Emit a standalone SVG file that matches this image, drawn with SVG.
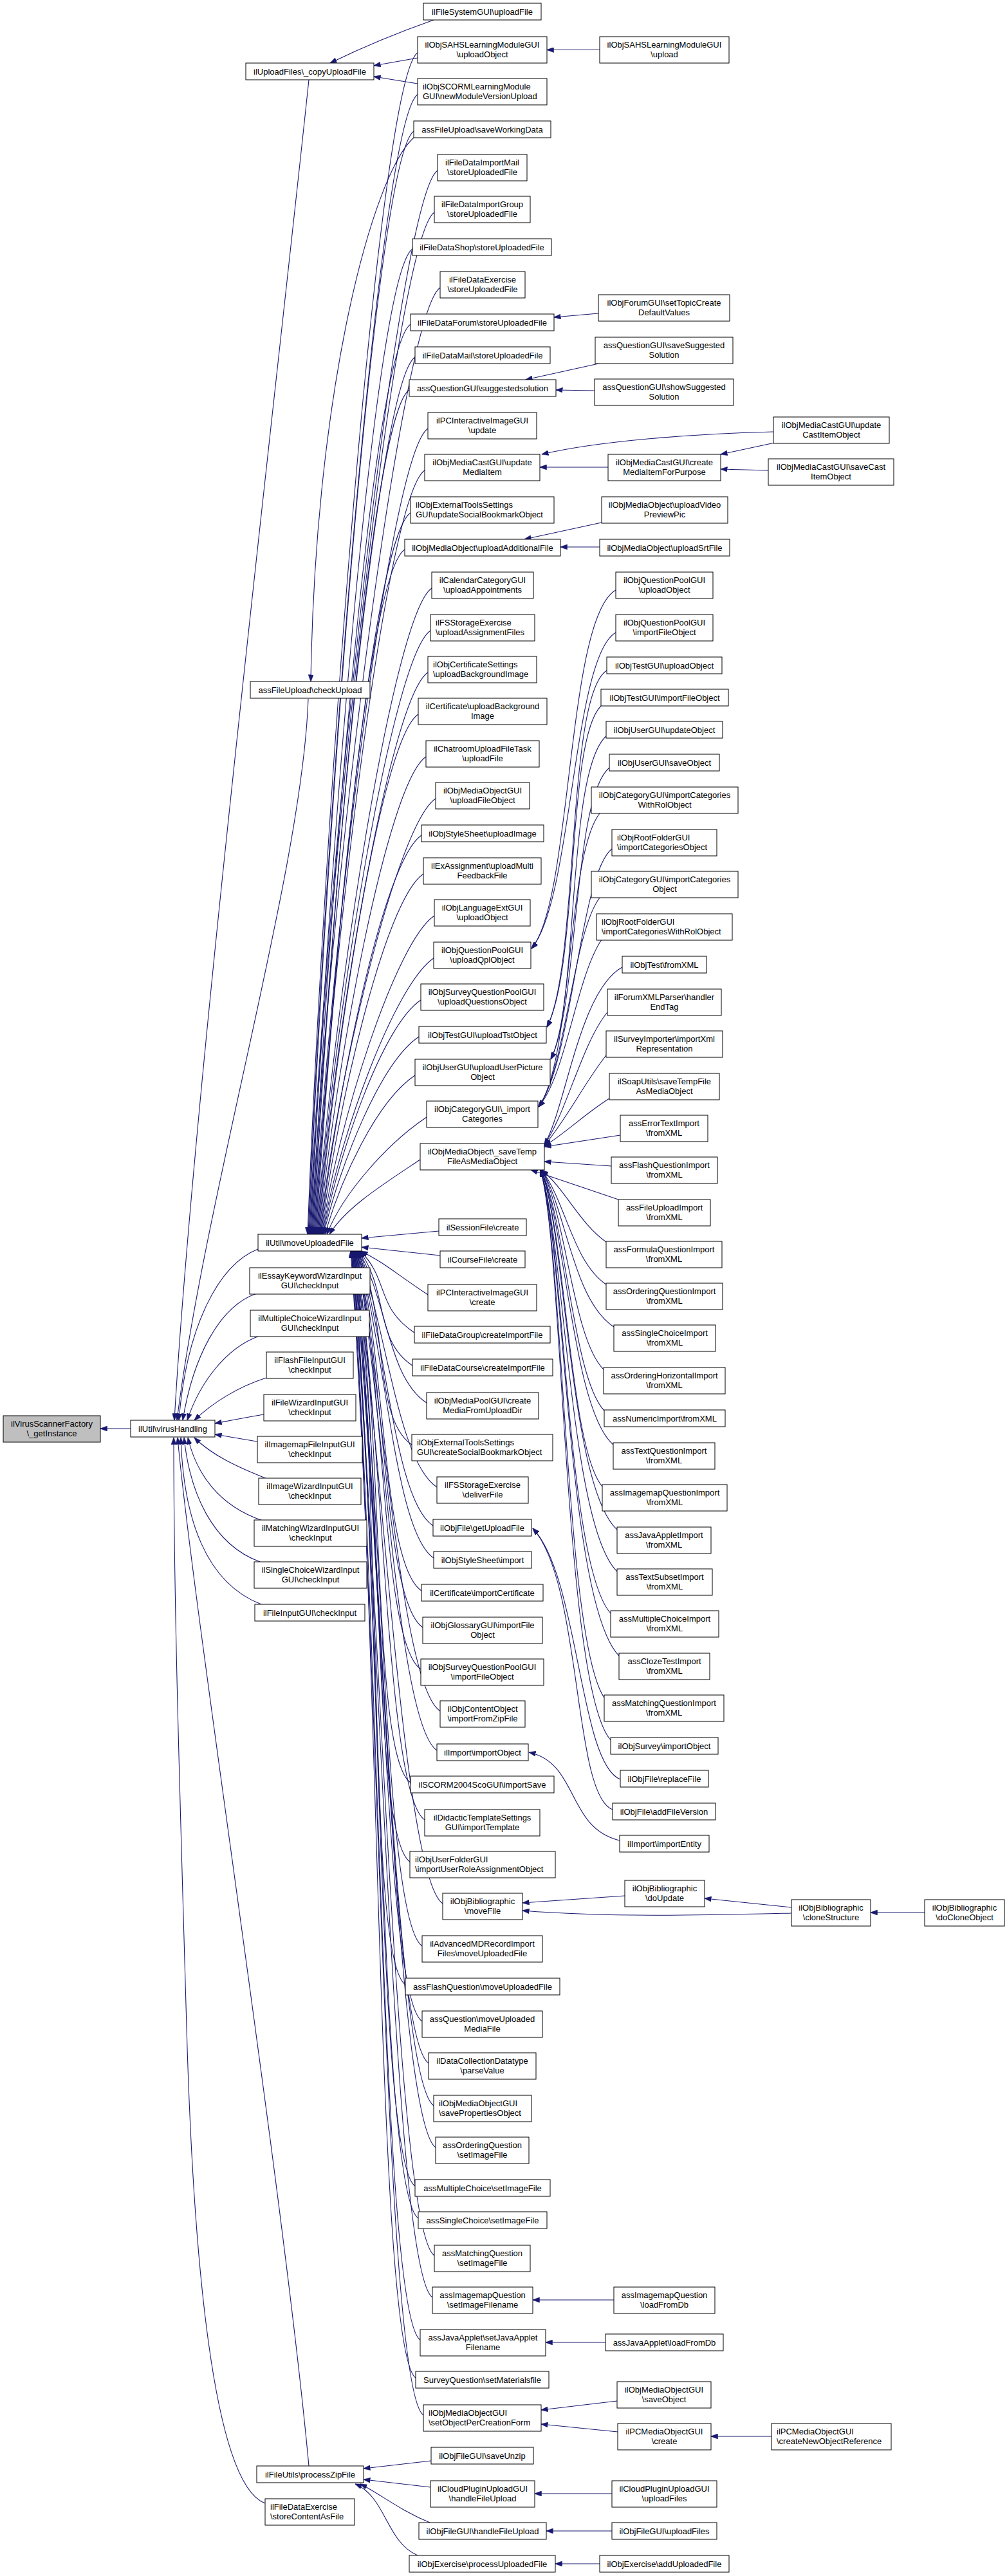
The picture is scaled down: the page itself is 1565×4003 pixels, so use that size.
<svg xmlns="http://www.w3.org/2000/svg" width="1565" height="4003" viewBox="0 0 1565 4003">
<style>
.n rect{fill:#fff;stroke:#000;stroke-width:1}
.n.root rect{fill:#bfbfbf}
.n text{font-family:"Liberation Sans",Arial,Helvetica,sans-serif;font-size:13px;fill:#000;text-anchor:middle}
.n text.l{text-anchor:start}
#edges path{fill:none;stroke:#191970;stroke-width:1.1;marker-end:url(#a)}
</style>
<defs>
<marker id="a" viewBox="0 0 11 8" markerWidth="11" markerHeight="8" refX="10.5" refY="4" orient="auto" markerUnits="userSpaceOnUse"><path d="M0,0L11,4L0,8z" fill="#191970" stroke="#191970" stroke-width="0.5"/></marker>
</defs>
<rect width="1565" height="4003" fill="#fff"/>
<g id="edges">
<path d="M203,2220 L156,2220"/>
<path d="M480,124 C430,600 300,1700 271,2207"/>
<path d="M479,1086 C470,1350 320,1850 275,2207"/>
<path d="M401,1941 C340,1965 290,2060 278,2207"/>
<path d="M399,2010 C340,2030 300,2110 284,2207"/>
<path d="M403,2076 C350,2095 310,2150 291,2207"/>
<path d="M414,2141 C370,2155 330,2180 302,2207"/>
<path d="M410,2198 C380,2203 360,2207 334,2212"/>
<path d="M400,2240 C380,2237 360,2233 334,2229"/>
<path d="M415,2298 C370,2280 330,2262 302,2234"/>
<path d="M408,2363 C340,2340 305,2290 292,2234"/>
<path d="M404,2427 C330,2400 295,2320 286,2234"/>
<path d="M406,2493 C320,2460 285,2360 281,2234"/>
<path d="M480,3832 C440,3400 300,2500 276,2234"/>
<path d="M412,3890 C330,3860 300,3500 290,3150 C280,2800 270,2500 270,2234"/>
<path d="M674,31 C620,50 560,75 513,98"/>
<path d="M649,90 L581,102"/>
<path d="M649,130 L581,119"/>
<path d="M643,214 C580,270 490,600 483,1059"/>
<path d="M649,82 C589,122 503,1275 478,1918"/>
<path d="M649,147 C589,187 504,1298 479,1918"/>
<path d="M643,204 C583,244 505,1318 480,1918"/>
<path d="M680,265 C620,305 506,1340 481,1918"/>
<path d="M675,330 C615,370 507,1362 482,1918"/>
<path d="M641,387 C581,427 508,1382 483,1918"/>
<path d="M684,447 C624,487 509,1403 484,1918"/>
<path d="M638,504 C578,544 510,1423 485,1918"/>
<path d="M645,555 C585,595 511,1441 486,1918"/>
<path d="M636,606 C576,646 512,1459 487,1918"/>
<path d="M665,666 C605,706 513,1480 488,1918"/>
<path d="M660,731 C600,771 514,1503 489,1918"/>
<path d="M638,797 C578,837 515,1526 490,1918"/>
<path d="M629,854 C569,894 516,1546 491,1918"/>
<path d="M671,914 C611,954 517,1567 492,1918"/>
<path d="M669,980 C609,1020 518,1590 493,1918"/>
<path d="M665,1045 C605,1085 519,1613 494,1918"/>
<path d="M650,1110 C590,1150 520,1635 495,1918"/>
<path d="M662,1176 C602,1216 521,1658 496,1918"/>
<path d="M677,1241 C617,1281 522,1681 497,1918"/>
<path d="M655,1298 C595,1338 523,1701 498,1918"/>
<path d="M658,1358 C598,1398 524,1722 499,1918"/>
<path d="M675,1423 C615,1463 525,1745 500,1918"/>
<path d="M674,1489 C614,1529 526,1768 501,1918"/>
<path d="M654,1554 C594,1594 527,1791 502,1918"/>
<path d="M651,1611 C591,1651 528,1811 503,1918"/>
<path d="M645,1671 C585,1711 530,1832 505,1918"/>
<path d="M663,1736 C603,1776 533,1854 508,1918"/>
<path d="M653,1802 C593,1842 537,1877 512,1918"/>
<path d="M682,1913 L562,1924"/>
<path d="M684,1951 L562,1938"/>
<path d="M665,2012 C605,1972 606,1968 561,1944"/>
<path d="M644,2071 C584,2031 605,1989 560,1944"/>
<path d="M641,2122 C581,2082 604,2006 559,1944"/>
<path d="M663,2180 C603,2140 603,2027 558,1944"/>
<path d="M640,2245 C580,2205 603,2049 558,1944"/>
<path d="M679,2311 C619,2271 602,2073 557,1944"/>
<path d="M673,2371 C613,2331 602,2094 557,1944"/>
<path d="M674,2421 C614,2381 601,2111 556,1944"/>
<path d="M655,2472 C595,2432 601,2129 556,1944"/>
<path d="M657,2529 C597,2489 600,2149 555,1944"/>
<path d="M654,2594 C594,2554 600,2172 555,1944"/>
<path d="M684,2659 C624,2619 599,2194 554,1944"/>
<path d="M679,2720 C619,2680 599,2216 554,1944"/>
<path d="M638,2770 C578,2730 598,2233 553,1944"/>
<path d="M660,2828 C600,2788 598,2253 553,1944"/>
<path d="M637,2893 C577,2853 597,2276 552,1944"/>
<path d="M688,2958 C628,2918 597,2299 552,1944"/>
<path d="M656,3024 C596,2984 596,2322 551,1944"/>
<path d="M630,3084 C570,3044 596,2343 551,1944"/>
<path d="M656,3141 C596,3101 595,2363 550,1944"/>
<path d="M666,3206 C606,3166 595,2386 550,1944"/>
<path d="M674,3272 C614,3232 594,2409 549,1944"/>
<path d="M677,3337 C617,3297 594,2432 549,1944"/>
<path d="M645,3397 C585,3357 593,2453 548,1944"/>
<path d="M650,3447 C590,3407 593,2470 548,1944"/>
<path d="M675,3505 C615,3465 592,2490 547,1944"/>
<path d="M672,3570 C612,3530 592,2513 547,1944"/>
<path d="M653,3636 C593,3596 591,2536 546,1944"/>
<path d="M646,3695 C586,3655 591,2557 546,1944"/>
<path d="M658,3753 C598,3713 590,2577 545,1944"/>
<path d="M670,3824 L565,3836"/>
<path d="M669,3865 L565,3853"/>
<path d="M668,3920 C620,3900 590,3875 560,3860"/>
<path d="M649,3971 C600,3950 600,3880 552,3860"/>
<path d="M932,77.5 L850,77.5"/>
<path d="M930,487 L861,493"/>
<path d="M935,564 L817,590"/>
<path d="M924,607 L864,606"/>
<path d="M945,726 L839,726"/>
<path d="M1202,671 C1080,674 930,685 842,706"/>
<path d="M1204,688 L1120,706"/>
<path d="M1194,731 L1120,729"/>
<path d="M935,812 L815,838"/>
<path d="M932,850 L871,850"/>
<path d="M957,917 C880,960 890,1400 826,1474"/>
<path d="M957,983 C890,1020 890,1400 826,1474"/>
<path d="M943,1042 C880,1080 900,1500 850,1596"/>
<path d="M934,1097 C880,1150 900,1500 850,1596"/>
<path d="M942,1144 C880,1200 900,1560 856,1646"/>
<path d="M947,1193 C890,1240 900,1560 856,1646"/>
<path d="M932,1264 C880,1330 890,1650 837,1720"/>
<path d="M951,1319 C900,1360 890,1650 837,1720"/>
<path d="M932,1395 C890,1450 880,1660 837,1720"/>
<path d="M935,1460 C895,1520 880,1670 837,1720"/>
<path d="M967,1503 C900,1540 880,1720 846,1779"/>
<path d="M944,1573 C905,1620 880,1730 846,1779"/>
<path d="M942,1640 C910,1680 880,1740 846,1780"/>
<path d="M947,1707 C910,1730 880,1760 846,1781"/>
<path d="M964,1764 L846,1782"/>
<path d="M950,1812 L846,1805"/>
<path d="M961,1864 L825,1818"/>
<path d="M942,1930 C900,1900 880,1850 842,1818"/>
<path d="M942,1996 C890,1960 880,1870 842,1818"/>
<path d="M954,2062 C890,2020 880,1880 842,1818"/>
<path d="M938,2128 C890,2080 880,1890 842,1818"/>
<path d="M939,2192 C890,2140 880,1900 841,1818"/>
<path d="M953,2245 C890,2190 880,1910 841,1818"/>
<path d="M936,2310 C885,2250 880,1920 841,1818"/>
<path d="M959,2377 C885,2310 880,1920 841,1818"/>
<path d="M959,2442 C885,2370 878,1930 840,1818"/>
<path d="M949,2507 C880,2430 878,1930 840,1818"/>
<path d="M962,2573 C880,2490 878,1935 840,1818"/>
<path d="M939,2638 C878,2550 876,1940 840,1818"/>
<path d="M949,2704 C876,2620 876,1940 840,1818"/>
<path d="M964,2765 C900,2740 900,2450 828,2375"/>
<path d="M952,2812 C890,2790 905,2460 828,2375"/>
<path d="M963,2860 C880,2840 900,2740 822,2723"/>
<path d="M971,2946 L812,2957"/>
<path d="M1230,2973 C1100,2976 950,2980 812,2969"/>
<path d="M1230,2964 L1095,2950"/>
<path d="M1437,2972 L1353,2972"/>
<path d="M954,3574 L828,3574"/>
<path d="M941,3640 L848,3640"/>
<path d="M959,3731 L841,3745"/>
<path d="M960,3779 L841,3767"/>
<path d="M1199,3786 L1105,3786"/>
<path d="M951,3875 L831,3875"/>
<path d="M951,3933 L849,3933"/>
<path d="M932,3984 L863,3984"/>
</g>
<g id="nodes">
<g id="virusfactory" class="n root"><rect x="5" y="2200" width="151" height="41"/><text><tspan x="80.5" y="2217">ilVirusScannerFactory</tspan><tspan x="80.5" y="2231.5">\_getInstance</tspan></text></g>
<g id="virushandling" class="n"><rect x="203" y="2207" width="131" height="26"/><text x="268.5" y="2224.5">ilUtil\virusHandling</text></g>
<g id="copyupload" class="n"><rect x="382" y="98" width="199" height="26"/><text x="481.5" y="115.5">ilUploadFiles\_copyUploadFile</text></g>
<g id="checkupload" class="n"><rect x="389" y="1059" width="186" height="26"/><text x="482" y="1076.5">assFileUpload\checkUpload</text></g>
<g id="moveuploaded" class="n"><rect x="401" y="1918" width="161" height="26"/><text x="481.5" y="1935.5">ilUtil\moveUploadedFile</text></g>
<g id="essay" class="n"><rect x="388" y="1970" width="187" height="41"/><text><tspan x="481.5" y="1987">ilEssayKeywordWizardInput</tspan><tspan x="481.5" y="2001.5">GUI\checkInput</tspan></text></g>
<g id="mcwizard" class="n"><rect x="389" y="2036" width="185" height="41"/><text><tspan x="481.5" y="2053">ilMultipleChoiceWizardInput</tspan><tspan x="481.5" y="2067.5">GUI\checkInput</tspan></text></g>
<g id="flashinput" class="n"><rect x="414" y="2101" width="135" height="41"/><text><tspan x="481.5" y="2118">ilFlashFileInputGUI</tspan><tspan x="481.5" y="2132.5">\checkInput</tspan></text></g>
<g id="filewizard" class="n"><rect x="410" y="2167" width="143" height="41"/><text><tspan x="481.5" y="2184">ilFileWizardInputGUI</tspan><tspan x="481.5" y="2198.5">\checkInput</tspan></text></g>
<g id="imagemapinput" class="n"><rect x="400" y="2232" width="163" height="41"/><text><tspan x="481.5" y="2249">ilImagemapFileInputGUI</tspan><tspan x="481.5" y="2263.5">\checkInput</tspan></text></g>
<g id="imagewizard" class="n"><rect x="402" y="2297" width="159" height="41"/><text><tspan x="481.5" y="2314">ilImageWizardInputGUI</tspan><tspan x="481.5" y="2328.5">\checkInput</tspan></text></g>
<g id="matchingwizard" class="n"><rect x="395" y="2362" width="175" height="41"/><text><tspan x="482.5" y="2379">ilMatchingWizardInputGUI</tspan><tspan x="482.5" y="2393.5">\checkInput</tspan></text></g>
<g id="scwizard" class="n"><rect x="395" y="2427" width="175" height="41"/><text><tspan x="482.5" y="2444">ilSingleChoiceWizardInput</tspan><tspan x="482.5" y="2458.5">GUI\checkInput</tspan></text></g>
<g id="fileinput" class="n"><rect x="396" y="2493" width="171" height="26"/><text x="481.5" y="2510.5">ilFileInputGUI\checkInput</text></g>
<g id="processzip" class="n"><rect x="399" y="3832" width="166" height="26"/><text x="482" y="3849.5">ilFileUtils\processZipFile</text></g>
<g id="storecontent" class="n"><rect x="412" y="3883" width="139" height="41"/><text class="l"><tspan x="420" y="3900">ilFileDataExercise</tspan><tspan x="420" y="3914.5">\storeContentAsFile</tspan></text></g>

<g id="fsgui" class="n"><rect x="658" y="5" width="183" height="26"/><text x="749.5" y="22.5">ilFileSystemGUI\uploadFile</text></g>
<g id="sahs" class="n"><rect x="649" y="57" width="201" height="41"/><text><tspan x="749.5" y="74">ilObjSAHSLearningModuleGUI</tspan><tspan x="749.5" y="88.5">\uploadObject</tspan></text></g>
<g id="scorm" class="n"><rect x="649" y="122" width="201" height="41"/><text class="l"><tspan x="657" y="139">ilObjSCORMLearningModule</tspan><tspan x="657" y="153.5">GUI\newModuleVersionUpload</tspan></text></g>
<g id="savewd" class="n"><rect x="643" y="188" width="213" height="26"/><text x="749.5" y="205.5">assFileUpload\saveWorkingData</text></g>
<g id="impmail" class="n"><rect x="680" y="240" width="139" height="41"/><text><tspan x="749.5" y="257">ilFileDataImportMail</tspan><tspan x="749.5" y="271.5">\storeUploadedFile</tspan></text></g>
<g id="impgroup" class="n"><rect x="675" y="305" width="149" height="41"/><text><tspan x="749.5" y="322">ilFileDataImportGroup</tspan><tspan x="749.5" y="336.5">\storeUploadedFile</tspan></text></g>
<g id="shop" class="n"><rect x="641" y="371" width="216" height="26"/><text x="749" y="388.5">ilFileDataShop\storeUploadedFile</text></g>
<g id="exstore" class="n"><rect x="684" y="422" width="132" height="41"/><text><tspan x="750" y="439">ilFileDataExercise</tspan><tspan x="750" y="453.5">\storeUploadedFile</tspan></text></g>
<g id="forum" class="n"><rect x="638" y="488" width="223" height="26"/><text x="749.5" y="505.5">ilFileDataForum\storeUploadedFile</text></g>
<g id="mail" class="n"><rect x="645" y="539" width="210" height="26"/><text x="750" y="556.5">ilFileDataMail\storeUploadedFile</text></g>
<g id="suggsol" class="n"><rect x="636" y="590" width="228" height="26"/><text x="750" y="607.5">assQuestionGUI\suggestedsolution</text></g>
<g id="pcupdate" class="n"><rect x="665" y="641" width="169" height="41"/><text><tspan x="749.5" y="658">ilPCInteractiveImageGUI</tspan><tspan x="749.5" y="672.5">\update</tspan></text></g>
<g id="mcupdmi" class="n"><rect x="660" y="706" width="179" height="41"/><text><tspan x="749.5" y="723">ilObjMediaCastGUI\update</tspan><tspan x="749.5" y="737.5">MediaItem</tspan></text></g>
<g id="extupd" class="n"><rect x="638" y="772" width="223" height="41"/><text class="l"><tspan x="646" y="789">ilObjExternalToolsSettings</tspan><tspan x="646" y="803.5">GUI\updateSocialBookmarkObject</tspan></text></g>
<g id="addfile" class="n"><rect x="629" y="838" width="242" height="26"/><text x="750" y="855.5">ilObjMediaObject\uploadAdditionalFile</text></g>
<g id="calcat" class="n"><rect x="671" y="889" width="158" height="41"/><text><tspan x="750" y="906">ilCalendarCategoryGUI</tspan><tspan x="750" y="920.5">\uploadAppointments</tspan></text></g>
<g id="fsassign" class="n"><rect x="669" y="955" width="162" height="41"/><text class="l"><tspan x="677" y="972">ilFSStorageExercise</tspan><tspan x="677" y="986.5">\uploadAssignmentFiles</tspan></text></g>
<g id="certset" class="n"><rect x="665" y="1020" width="169" height="41"/><text class="l"><tspan x="673" y="1037">ilObjCertificateSettings</tspan><tspan x="673" y="1051.5">\uploadBackgroundImage</tspan></text></g>
<g id="certbg" class="n"><rect x="650" y="1085" width="200" height="41"/><text><tspan x="750" y="1102">ilCertificate\uploadBackground</tspan><tspan x="750" y="1116.5">Image</tspan></text></g>
<g id="chat" class="n"><rect x="662" y="1151" width="176" height="41"/><text><tspan x="750" y="1168">ilChatroomUploadFileTask</tspan><tspan x="750" y="1182.5">\uploadFile</tspan></text></g>
<g id="mogui_upload" class="n"><rect x="677" y="1216" width="146" height="41"/><text><tspan x="750" y="1233">ilObjMediaObjectGUI</tspan><tspan x="750" y="1247.5">\uploadFileObject</tspan></text></g>
<g id="styleimg" class="n"><rect x="655" y="1282" width="190" height="26"/><text x="750" y="1299.5">ilObjStyleSheet\uploadImage</text></g>
<g id="exassign" class="n"><rect x="658" y="1333" width="183" height="41"/><text><tspan x="749.5" y="1350">ilExAssignment\uploadMulti</tspan><tspan x="749.5" y="1364.5">FeedbackFile</tspan></text></g>
<g id="langext" class="n"><rect x="675" y="1398" width="149" height="41"/><text><tspan x="749.5" y="1415">ilObjLanguageExtGUI</tspan><tspan x="749.5" y="1429.5">\uploadObject</tspan></text></g>
<g id="qplupload" class="n"><rect x="674" y="1464" width="151" height="41"/><text><tspan x="749.5" y="1481">ilObjQuestionPoolGUI</tspan><tspan x="749.5" y="1495.5">\uploadQplObject</tspan></text></g>
<g id="spluploadq" class="n"><rect x="654" y="1529" width="191" height="41"/><text><tspan x="749.5" y="1546">ilObjSurveyQuestionPoolGUI</tspan><tspan x="749.5" y="1560.5">\uploadQuestionsObject</tspan></text></g>
<g id="tstupload" class="n"><rect x="651" y="1595" width="198" height="26"/><text x="750" y="1612.5">ilObjTestGUI\uploadTstObject</text></g>
<g id="userpic" class="n"><rect x="645" y="1646" width="210" height="41"/><text><tspan x="750" y="1663">ilObjUserGUI\uploadUserPicture</tspan><tspan x="750" y="1677.5">Object</tspan></text></g>
<g id="catimp" class="n"><rect x="663" y="1711" width="173" height="41"/><text><tspan x="749.5" y="1728">ilObjCategoryGUI\_import</tspan><tspan x="749.5" y="1742.5">Categories</tspan></text></g>
<g id="savetemp" class="n"><rect x="653" y="1777" width="193" height="41"/><text><tspan x="749.5" y="1794">ilObjMediaObject\_saveTemp</tspan><tspan x="749.5" y="1808.5">FileAsMediaObject</tspan></text></g>
<g id="sessfile" class="n"><rect x="682" y="1894" width="136" height="26"/><text x="750" y="1911.5">ilSessionFile\create</text></g>
<g id="coursefile" class="n"><rect x="684" y="1944" width="132" height="26"/><text x="750" y="1961.5">ilCourseFile\create</text></g>
<g id="pccreate" class="n"><rect x="665" y="1996" width="169" height="41"/><text><tspan x="749.5" y="2013">ilPCInteractiveImageGUI</tspan><tspan x="749.5" y="2027.5">\create</tspan></text></g>
<g id="fdgroup" class="n"><rect x="644" y="2061" width="211" height="26"/><text x="749.5" y="2078.5">ilFileDataGroup\createImportFile</text></g>
<g id="fdcourse" class="n"><rect x="641" y="2112" width="218" height="26"/><text x="750" y="2129.5">ilFileDataCourse\createImportFile</text></g>
<g id="mediapool" class="n"><rect x="663" y="2164" width="174" height="41"/><text><tspan x="750" y="2181">ilObjMediaPoolGUI\create</tspan><tspan x="750" y="2195.5">MediaFromUploadDir</tspan></text></g>
<g id="extcreate" class="n"><rect x="640" y="2229" width="219" height="41"/><text class="l"><tspan x="648" y="2246">ilObjExternalToolsSettings</tspan><tspan x="648" y="2260.5">GUI\createSocialBookmarkObject</tspan></text></g>
<g id="fsdeliver" class="n"><rect x="679" y="2295" width="142" height="41"/><text><tspan x="750" y="2312">ilFSStorageExercise</tspan><tspan x="750" y="2326.5">\deliverFile</tspan></text></g>
<g id="getupload" class="n"><rect x="673" y="2361" width="153" height="26"/><text x="749.5" y="2378.5">ilObjFile\getUploadFile</text></g>
<g id="styleimport" class="n"><rect x="674" y="2411" width="152" height="26"/><text x="750" y="2428.5">ilObjStyleSheet\import</text></g>
<g id="certimport" class="n"><rect x="655" y="2462" width="189" height="26"/><text x="749.5" y="2479.5">ilCertificate\importCertificate</text></g>
<g id="glossary" class="n"><rect x="657" y="2513" width="186" height="41"/><text><tspan x="750" y="2530">ilObjGlossaryGUI\importFile</tspan><tspan x="750" y="2544.5">Object</tspan></text></g>
<g id="splimport" class="n"><rect x="654" y="2578" width="191" height="41"/><text><tspan x="749.5" y="2595">ilObjSurveyQuestionPoolGUI</tspan><tspan x="749.5" y="2609.5">\importFileObject</tspan></text></g>
<g id="cozip" class="n"><rect x="684" y="2643" width="132" height="41"/><text><tspan x="750" y="2660">ilObjContentObject</tspan><tspan x="750" y="2674.5">\importFromZipFile</tspan></text></g>
<g id="impobj" class="n"><rect x="679" y="2710" width="142" height="26"/><text x="750" y="2727.5">ilImport\importObject</text></g>
<g id="scorm2004" class="n"><rect x="638" y="2760" width="223" height="26"/><text x="749.5" y="2777.5">ilSCORM2004ScoGUI\importSave</text></g>
<g id="didactic" class="n"><rect x="660" y="2812" width="179" height="41"/><text><tspan x="749.5" y="2829">ilDidacticTemplateSettings</tspan><tspan x="749.5" y="2843.5">GUI\importTemplate</tspan></text></g>
<g id="userfolder" class="n"><rect x="637" y="2877" width="226" height="41"/><text class="l"><tspan x="645" y="2894">ilObjUserFolderGUI</tspan><tspan x="645" y="2908.5">\importUserRoleAssignmentObject</tspan></text></g>
<g id="bibmove" class="n"><rect x="688" y="2942" width="124" height="41"/><text><tspan x="750" y="2959">ilObjBibliographic</tspan><tspan x="750" y="2973.5">\moveFile</tspan></text></g>
<g id="advmd" class="n"><rect x="656" y="3008" width="187" height="41"/><text><tspan x="749.5" y="3025">ilAdvancedMDRecordImport</tspan><tspan x="749.5" y="3039.5">Files\moveUploadedFile</tspan></text></g>
<g id="flashmove" class="n"><rect x="630" y="3074" width="240" height="26"/><text x="750" y="3091.5">assFlashQuestion\moveUploadedFile</text></g>
<g id="qmedia" class="n"><rect x="656" y="3125" width="187" height="41"/><text><tspan x="749.5" y="3142">assQuestion\moveUploaded</tspan><tspan x="749.5" y="3156.5">MediaFile</tspan></text></g>
<g id="dcparse" class="n"><rect x="666" y="3190" width="167" height="41"/><text><tspan x="749.5" y="3207">ilDataCollectionDatatype</tspan><tspan x="749.5" y="3221.5">\parseValue</tspan></text></g>
<g id="mogui_saveprop" class="n"><rect x="674" y="3256" width="152" height="41"/><text class="l"><tspan x="682" y="3273">ilObjMediaObjectGUI</tspan><tspan x="682" y="3287.5">\savePropertiesObject</tspan></text></g>
<g id="ordimg" class="n"><rect x="677" y="3321" width="145" height="41"/><text><tspan x="749.5" y="3338">assOrderingQuestion</tspan><tspan x="749.5" y="3352.5">\setImageFile</tspan></text></g>
<g id="mcimg" class="n"><rect x="645" y="3387" width="210" height="26"/><text x="750" y="3404.5">assMultipleChoice\setImageFile</text></g>
<g id="scimg" class="n"><rect x="650" y="3437" width="200" height="26"/><text x="750" y="3454.5">assSingleChoice\setImageFile</text></g>
<g id="matchimg" class="n"><rect x="675" y="3489" width="149" height="41"/><text><tspan x="749.5" y="3506">assMatchingQuestion</tspan><tspan x="749.5" y="3520.5">\setImageFile</tspan></text></g>
<g id="imgmapfn" class="n"><rect x="672" y="3554" width="156" height="41"/><text><tspan x="750" y="3571">assImagemapQuestion</tspan><tspan x="750" y="3585.5">\setImageFilename</tspan></text></g>
<g id="javafn" class="n"><rect x="653" y="3620" width="195" height="41"/><text><tspan x="750.5" y="3637">assJavaApplet\setJavaApplet</tspan><tspan x="750.5" y="3651.5">Filename</tspan></text></g>
<g id="surveymat" class="n"><rect x="646" y="3685" width="207" height="26"/><text x="749.5" y="3702.5">SurveyQuestion\setMaterialsfile</text></g>
<g id="mogui_setobj" class="n"><rect x="658" y="3737" width="183" height="41"/><text class="l"><tspan x="666" y="3754">ilObjMediaObjectGUI</tspan><tspan x="666" y="3768.5">\setObjectPerCreationForm</tspan></text></g>
<g id="saveunzip" class="n"><rect x="670" y="3803" width="159" height="26"/><text x="749.5" y="3820.5">ilObjFileGUI\saveUnzip</text></g>
<g id="cloudhandle" class="n"><rect x="669" y="3855" width="162" height="41"/><text><tspan x="750" y="3872">ilCloudPluginUploadGUI</tspan><tspan x="750" y="3886.5">\handleFileUpload</tspan></text></g>
<g id="filehandle" class="n"><rect x="651" y="3920" width="198" height="26"/><text x="750" y="3937.5">ilObjFileGUI\handleFileUpload</text></g>
<g id="exproc" class="n"><rect x="636" y="3971" width="227" height="26"/><text x="749.5" y="3988.5">ilObjExercise\processUploadedFile</text></g>

<g id="sahsupload" class="n"><rect x="932" y="57" width="201" height="41"/><text><tspan x="1032.5" y="74">ilObjSAHSLearningModuleGUI</tspan><tspan x="1032.5" y="88.5">\upload</tspan></text></g>
<g id="forumtopic" class="n"><rect x="930" y="458" width="204" height="41"/><text><tspan x="1032" y="475">ilObjForumGUI\setTopicCreate</tspan><tspan x="1032" y="489.5">DefaultValues</tspan></text></g>
<g id="savesugg" class="n"><rect x="925" y="524" width="214" height="41"/><text><tspan x="1032" y="541">assQuestionGUI\saveSuggested</tspan><tspan x="1032" y="555.5">Solution</tspan></text></g>
<g id="showsugg" class="n"><rect x="924" y="589" width="216" height="41"/><text><tspan x="1032" y="606">assQuestionGUI\showSuggested</tspan><tspan x="1032" y="620.5">Solution</tspan></text></g>
<g id="mccreate" class="n"><rect x="945" y="706" width="175" height="41"/><text><tspan x="1032.5" y="723">ilObjMediaCastGUI\create</tspan><tspan x="1032.5" y="737.5">MediaItemForPurpose</tspan></text></g>
<g id="videoprev" class="n"><rect x="935" y="772" width="196" height="41"/><text><tspan x="1033" y="789">ilObjMediaObject\uploadVideo</tspan><tspan x="1033" y="803.5">PreviewPic</tspan></text></g>
<g id="srtfile" class="n"><rect x="932" y="838" width="202" height="26"/><text x="1033" y="855.5">ilObjMediaObject\uploadSrtFile</text></g>
<g id="qpupload" class="n"><rect x="957" y="889" width="151" height="41"/><text><tspan x="1032.5" y="906">ilObjQuestionPoolGUI</tspan><tspan x="1032.5" y="920.5">\uploadObject</tspan></text></g>
<g id="qpimport" class="n"><rect x="957" y="955" width="151" height="41"/><text><tspan x="1032.5" y="972">ilObjQuestionPoolGUI</tspan><tspan x="1032.5" y="986.5">\importFileObject</tspan></text></g>
<g id="tstuploadobj" class="n"><rect x="943" y="1021" width="179" height="26"/><text x="1032.5" y="1038.5">ilObjTestGUI\uploadObject</text></g>
<g id="tstimport" class="n"><rect x="934" y="1071" width="198" height="26"/><text x="1033" y="1088.5">ilObjTestGUI\importFileObject</text></g>
<g id="userupd" class="n"><rect x="942" y="1121" width="181" height="26"/><text x="1032.5" y="1138.5">ilObjUserGUI\updateObject</text></g>
<g id="usersave" class="n"><rect x="947" y="1172" width="171" height="26"/><text x="1032.5" y="1189.5">ilObjUserGUI\saveObject</text></g>
<g id="catimpwithrol" class="n"><rect x="919" y="1223" width="228" height="41"/><text><tspan x="1033" y="1240">ilObjCategoryGUI\importCategories</tspan><tspan x="1033" y="1254.5">WithRolObject</tspan></text></g>
<g id="rootimpcat" class="n"><rect x="951" y="1289" width="163" height="41"/><text class="l"><tspan x="959" y="1306">ilObjRootFolderGUI</tspan><tspan x="959" y="1320.5">\importCategoriesObject</tspan></text></g>
<g id="catimpobj" class="n"><rect x="919" y="1354" width="228" height="41"/><text><tspan x="1033" y="1371">ilObjCategoryGUI\importCategories</tspan><tspan x="1033" y="1385.5">Object</tspan></text></g>
<g id="rootimpwithrol" class="n"><rect x="927" y="1420" width="211" height="41"/><text class="l"><tspan x="935" y="1437">ilObjRootFolderGUI</tspan><tspan x="935" y="1451.5">\importCategoriesWithRolObject</tspan></text></g>
<g id="testfromxml" class="n"><rect x="967" y="1486" width="131" height="26"/><text x="1032.5" y="1503.5">ilObjTest\fromXML</text></g>
<g id="forumxml" class="n"><rect x="944" y="1537" width="177" height="41"/><text><tspan x="1032.5" y="1554">ilForumXMLParser\handler</tspan><tspan x="1032.5" y="1568.5">EndTag</tspan></text></g>
<g id="surveyimp" class="n"><rect x="942" y="1602" width="181" height="41"/><text><tspan x="1032.5" y="1619">ilSurveyImporter\importXml</tspan><tspan x="1032.5" y="1633.5">Representation</tspan></text></g>
<g id="soaputils" class="n"><rect x="947" y="1668" width="171" height="41"/><text><tspan x="1032.5" y="1685">ilSoapUtils\saveTempFile</tspan><tspan x="1032.5" y="1699.5">AsMediaObject</tspan></text></g>
<g id="errortext" class="n"><rect x="964" y="1733" width="136" height="41"/><text><tspan x="1032" y="1750">assErrorTextImport</tspan><tspan x="1032" y="1764.5">\fromXML</tspan></text></g>
<g id="flashimp" class="n"><rect x="950" y="1798" width="165" height="41"/><text><tspan x="1032.5" y="1815">assFlashQuestionImport</tspan><tspan x="1032.5" y="1829.5">\fromXML</tspan></text></g>
<g id="fileuploadimp" class="n"><rect x="961" y="1864" width="143" height="41"/><text><tspan x="1032.5" y="1881">assFileUploadImport</tspan><tspan x="1032.5" y="1895.5">\fromXML</tspan></text></g>
<g id="formulaimp" class="n"><rect x="942" y="1929" width="180" height="41"/><text><tspan x="1032" y="1946">assFormulaQuestionImport</tspan><tspan x="1032" y="1960.5">\fromXML</tspan></text></g>
<g id="orderingimp" class="n"><rect x="942" y="1994" width="181" height="41"/><text><tspan x="1032.5" y="2011">assOrderingQuestionImport</tspan><tspan x="1032.5" y="2025.5">\fromXML</tspan></text></g>
<g id="singlechoiceimp" class="n"><rect x="954" y="2059" width="158" height="41"/><text><tspan x="1033" y="2076">assSingleChoiceImport</tspan><tspan x="1033" y="2090.5">\fromXML</tspan></text></g>
<g id="orderhorizimp" class="n"><rect x="938" y="2125" width="189" height="41"/><text><tspan x="1032.5" y="2142">assOrderingHorizontalImport</tspan><tspan x="1032.5" y="2156.5">\fromXML</tspan></text></g>
<g id="numericimp" class="n"><rect x="939" y="2191" width="188" height="26"/><text x="1033" y="2208.5">assNumericImport\fromXML</text></g>
<g id="textqimp" class="n"><rect x="953" y="2242" width="158" height="41"/><text><tspan x="1032" y="2259">assTextQuestionImport</tspan><tspan x="1032" y="2273.5">\fromXML</tspan></text></g>
<g id="imagemapimp" class="n"><rect x="936" y="2307" width="194" height="41"/><text><tspan x="1033" y="2324">assImagemapQuestionImport</tspan><tspan x="1033" y="2338.5">\fromXML</tspan></text></g>
<g id="javaimp" class="n"><rect x="959" y="2373" width="146" height="41"/><text><tspan x="1032" y="2390">assJavaAppletImport</tspan><tspan x="1032" y="2404.5">\fromXML</tspan></text></g>
<g id="textsubsetimp" class="n"><rect x="959" y="2438" width="148" height="41"/><text><tspan x="1033" y="2455">assTextSubsetImport</tspan><tspan x="1033" y="2469.5">\fromXML</tspan></text></g>
<g id="mcimp" class="n"><rect x="949" y="2503" width="168" height="41"/><text><tspan x="1033" y="2520">assMultipleChoiceImport</tspan><tspan x="1033" y="2534.5">\fromXML</tspan></text></g>
<g id="clozeimp" class="n"><rect x="962" y="2569" width="141" height="41"/><text><tspan x="1032.5" y="2586">assClozeTestImport</tspan><tspan x="1032.5" y="2600.5">\fromXML</tspan></text></g>
<g id="matchimp" class="n"><rect x="939" y="2634" width="186" height="41"/><text><tspan x="1032" y="2651">assMatchingQuestionImport</tspan><tspan x="1032" y="2665.5">\fromXML</tspan></text></g>
<g id="surveyimpobj" class="n"><rect x="949" y="2700" width="167" height="26"/><text x="1032.5" y="2717.5">ilObjSurvey\importObject</text></g>
<g id="replacefile" class="n"><rect x="964" y="2751" width="137" height="26"/><text x="1032.5" y="2768.5">ilObjFile\replaceFile</text></g>
<g id="addfilever" class="n"><rect x="952" y="2802" width="160" height="26"/><text x="1032" y="2819.5">ilObjFile\addFileVersion</text></g>
<g id="importentity" class="n"><rect x="963" y="2852" width="139" height="26"/><text x="1032.5" y="2869.5">ilImport\importEntity</text></g>
<g id="bibupdate" class="n"><rect x="971" y="2922" width="124" height="41"/><text><tspan x="1033" y="2939">ilObjBibliographic</tspan><tspan x="1033" y="2953.5">\doUpdate</tspan></text></g>
<g id="imgmaploaddb" class="n"><rect x="954" y="3554" width="157" height="41"/><text><tspan x="1032.5" y="3571">assImagemapQuestion</tspan><tspan x="1032.5" y="3585.5">\loadFromDb</tspan></text></g>
<g id="javaloaddb" class="n"><rect x="941" y="3627" width="183" height="26"/><text x="1032.5" y="3644.5">assJavaApplet\loadFromDb</text></g>
<g id="mogui_save" class="n"><rect x="959" y="3701" width="146" height="41"/><text><tspan x="1032" y="3718">ilObjMediaObjectGUI</tspan><tspan x="1032" y="3732.5">\saveObject</tspan></text></g>
<g id="pcmocreate" class="n"><rect x="960" y="3766" width="145" height="41"/><text><tspan x="1032.5" y="3783">ilPCMediaObjectGUI</tspan><tspan x="1032.5" y="3797.5">\create</tspan></text></g>
<g id="clouduploadfiles" class="n"><rect x="951" y="3855" width="163" height="41"/><text><tspan x="1032.5" y="3872">ilCloudPluginUploadGUI</tspan><tspan x="1032.5" y="3886.5">\uploadFiles</tspan></text></g>
<g id="fileuploadfiles" class="n"><rect x="951" y="3920" width="163" height="26"/><text x="1032.5" y="3937.5">ilObjFileGUI\uploadFiles</text></g>
<g id="exadd" class="n"><rect x="932" y="3971" width="201" height="26"/><text x="1032.5" y="3988.5">ilObjExercise\addUploadedFile</text></g>

<g id="mcupdcast" class="n"><rect x="1202" y="648" width="180" height="41"/><text><tspan x="1292" y="665">ilObjMediaCastGUI\update</tspan><tspan x="1292" y="679.5">CastItemObject</tspan></text></g>
<g id="mcsavecast" class="n"><rect x="1194" y="713" width="195" height="41"/><text><tspan x="1291.5" y="730">ilObjMediaCastGUI\saveCast</tspan><tspan x="1291.5" y="744.5">ItemObject</tspan></text></g>
<g id="bibclone" class="n"><rect x="1230" y="2952" width="123" height="41"/><text><tspan x="1291.5" y="2969">ilObjBibliographic</tspan><tspan x="1291.5" y="2983.5">\cloneStructure</tspan></text></g>
<g id="pccreateref" class="n"><rect x="1199" y="3766" width="186" height="41"/><text class="l"><tspan x="1207" y="3783">ilPCMediaObjectGUI</tspan><tspan x="1207" y="3797.5">\createNewObjectReference</tspan></text></g>
<g id="bibdoclone" class="n"><rect x="1437" y="2952" width="124" height="41"/><text><tspan x="1499" y="2969">ilObjBibliographic</tspan><tspan x="1499" y="2983.5">\doCloneObject</tspan></text></g>
</g>
</svg>
